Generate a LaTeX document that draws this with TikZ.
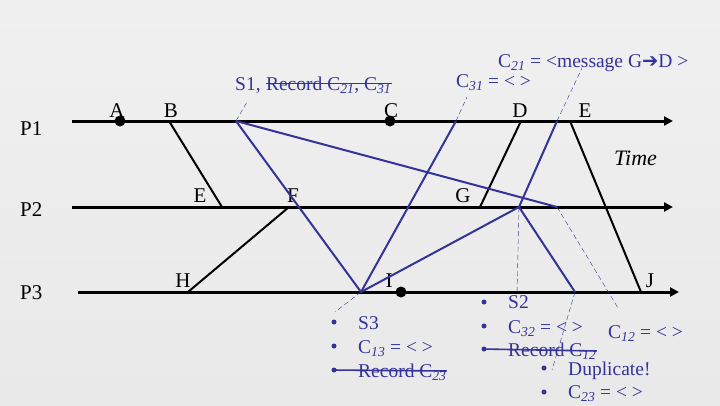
\documentclass[tikz,border=0pt]{standalone}
\usepackage{fontspec}
\setmainfont{Liberation Serif}
\newfontfamily\arrowfont{DejaVu Sans}
\usetikzlibrary{arrows.meta,positioning}
\definecolor{snapblue}{RGB}{51,51,153}
\definecolor{slidetop}{RGB}{240,240,240}
\definecolor{slidebot}{RGB}{233,233,233}
\newcommand{\sub}[1]{\textsubscript{\textit{#1}}}
\begin{document}
\begin{tikzpicture}[x=1pt,y=-1pt,
  proc/.style={line width=3pt,-{Triangle[length=9pt,width=9pt]}},
  msg/.style={line width=2pt},
  snap/.style={line width=2pt,snapblue},
  hint/.style={snapblue,thin,dash pattern=on 5pt off 3pt},
  lbl/.style={font=\fontsize{21}{24}\selectfont,anchor=base,inner sep=0pt},
  note/.style={text=snapblue,font=\fontsize{19.5}{22}\selectfont,anchor=base west,inner sep=0pt},
  strike/.style={snapblue,line width=1.6pt},
  event/.style={circle,fill,inner sep=0pt,minimum size=11pt},
  bul/.style={circle,fill=snapblue,inner sep=0pt,minimum size=5pt}]
  \shade[top color=slidetop,bottom color=slidebot] (0,0) rectangle (720,405);
  \useasboundingbox (0,0) rectangle (720,405);
  % process lines
  \coordinate (p1s) at (72,121); \coordinate (p1e) at (673,121);
  \coordinate (p2s) at (72,207); \coordinate (p2e) at (673,207);
  \coordinate (p3s) at (78,292); \coordinate (p3e) at (679,292);
  \draw[proc] (p1s) -- (p1e);
  \draw[proc] (p2s) -- (p2e);
  \draw[proc] (p3s) -- (p3e);
  \node[lbl,anchor=base west] (lp1) at (20,135) {P1};
  \node[lbl,anchor=base west] (lp2) at (20,216) {P2};
  \node[lbl,anchor=base west] (lp3) at (20,299) {P3};
  \node[lbl,font=\fontsize{22}{24}\selectfont\itshape,anchor=base west] (time) at (614,165) {Time};
  % events
  \coordinate (b) at (169,121);  \coordinate (s1) at (236,121);
  \coordinate (c31) at (456,121); \coordinate (d) at (521,121);
  \coordinate (c21) at (557,121); \coordinate (e1) at (570,121);
  \coordinate (e2) at (222,207); \coordinate (f) at (289,207);
  \coordinate (g) at (480,207);  \coordinate (s2) at (519,207);
  \coordinate (x12) at (557,207);
  \coordinate (h) at (188,292);  \coordinate (s3) at (361,292);
  \coordinate (dup) at (575,292); \coordinate (j) at (641,292);
  \node[event] (a) at (120,121) {};
  \node[event] (c) at (390,121) {};
  \node[event] (i) at (401,292) {};
  \node[lbl] (la) at (117,117) {A};
  \node[lbl] (lb) at (171,117) {B};
  \node[lbl] (lc) at (391,117) {C};
  \node[lbl] (ld) at (520,117) {D};
  \node[lbl] (le1) at (585,117) {E};
  \node[lbl] (le2) at (200,202) {E};
  \node[lbl] (lf) at (293,202) {F};
  \node[lbl] (lg) at (463,202) {G};
  \node[lbl] (lh) at (183,287) {H};
  \node[lbl] (li) at (389,287) {I};
  \node[lbl] (lj) at (650,287) {J};
  % application messages
  \draw[msg] (b) -- (e2);
  \draw[msg] (h) -- (f);
  \draw[msg] (g) -- (d);
  \draw[msg] (e1) -- (j);
  % markers
  \draw[snap] (s1) -- (s3);
  \draw[snap] (s1) -- (x12);
  \draw[snap] (s3) -- (c31);
  \draw[snap] (s3) -- (s2);
  \draw[snap] (s2) -- (c21);
  \draw[snap] (s2) -- (dup);
  \draw[hint] (s1) -- (247,102);
  \draw[hint] (c31) -- (467,97);
  \draw[hint] (c21) -- (582,68);
  \draw[hint] (s2) -- (517,294);
  \draw[hint] (x12) -- (618,308);
  \draw[hint] (dup) -- (552,370);
  \draw[hint] (s3) -- (335,312);
  % snapshot notes
  \node[note] (hdr) at (235,90) {S1,};
  \node[note,right=5pt of hdr.base east,anchor=base west] (hdrrec) {Record C\sub{21}, C\sub{31}};
  \draw[strike] ([yshift=6.5pt]hdrrec.base west) -- ([yshift=6.5pt]hdrrec.base east);
  \node[note] (n21) at (498,67) {C\sub{21} = <message G{\arrowfont\bfseries ➔}D >};
  \node[note] (n31) at (456,87) {C\sub{31} = < >};
  \node[bul] (u1) at (334,322) {}; \node[note] (t1) at (358,329) {S3};
  \node[bul] (u2) at (334,346) {}; \node[note] (t2) at (358,353) {C\sub{13} = < >};
  \node[bul] (u3) at (334,370) {}; \node[note] (t3) at (358,377) {Record C\sub{23}};
  \draw[strike] ([xshift=-2pt]u3.center) -- ([yshift=6pt]t3.base east);
  \node[bul] (v1) at (484,302) {}; \node[note] (w1) at (508,308) {S2};
  \node[bul] (v2) at (484,326) {}; \node[note] (w2) at (508,333) {C\sub{32} = < >};
  \node[bul] (v3) at (484,349) {}; \node[note] (w3) at (508,356) {Record C\sub{12}};
  \draw[strike] ([xshift=-2pt]v3.center) -- ([yshift=5pt]w3.base east);
  \node[note] (n12) at (608,338) {C\sub{12} = < >};
  \node[bul] (z1) at (544,368) {}; \node[note] (y1) at (568,375) {Duplicate!};
  \node[bul] (z2) at (544,392) {}; \node[note] (y2) at (568,398) {C\sub{23} = < >};
\end{tikzpicture}
\end{document}
